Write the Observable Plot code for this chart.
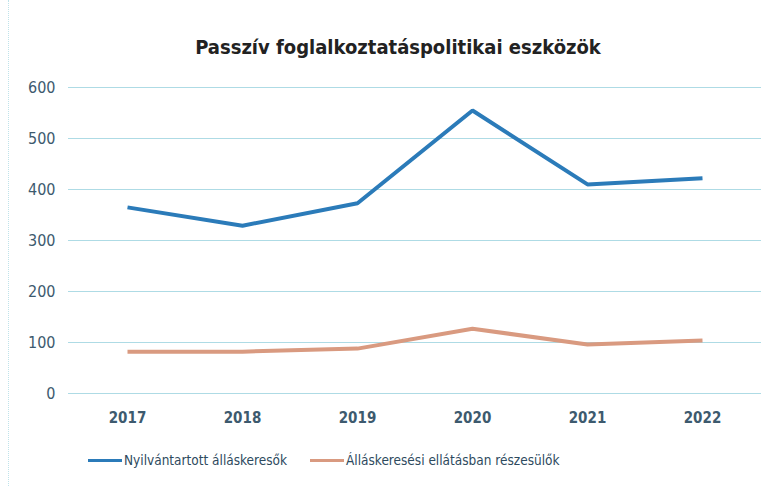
<!DOCTYPE html>
<html>
<head>
<meta charset="utf-8">
<script src="https://cdn.jsdelivr.net/npm/d3@7"></script>
<script src="https://cdn.jsdelivr.net/npm/@observablehq/plot@0.6"></script>
<style>
  body { margin: 0; background: #fff; width: 779px; height: 486px; overflow: hidden; position: relative;
         font-family: "DejaVu Sans Condensed", "DejaVu Sans", sans-serif; }
  #frame { position: absolute; left: 8px; top: 0; width: 760px; height: 486px; border-left: 1px dotted #bfe3ea; }
  #title { position: absolute; left: 0; top: 35px; width: 796px; text-align: center;
           font-size: 20px; font-weight: bold; color: #222; }
  #chart { position: absolute; left: 0; top: 70px; }
  #legend { position: absolute; left: 0; top: 452px; width: 779px; font-size: 13.5px; color: #2e4a5e; }
  .item { position: absolute; top: 0; display: flex; align-items: center; }
  .swatch { width: 34px; height: 3px; margin-right: 2px; }
</style>
</head>
<body>
<div id="frame"></div>
<div id="title">Passzív foglalkoztatáspolitikai eszközök</div>
<div id="chart"></div>
<div id="legend"></div>
<script>
const years = ["2017", "2018", "2019", "2020", "2021", "2022"];
const seriesNames = ["Nyilvántartott álláskeresők", "Álláskeresési ellátásban részesülők"];
const registered = [365, 329, 373, 555, 410, 422];
const benefits = [82, 82, 88, 127, 96, 104];
const yTicks = [0, 100, 200, 300, 400, 500, 600];
const colors = ["#2b7bb9", "#d99a80"];

const data = [];
years.forEach((y, i) => {
  data.push({year: y, value: registered[i], series: seriesNames[0]});
  data.push({year: y, value: benefits[i], series: seriesNames[1]});
});

const chart = Plot.plot({
  width: 779,
  height: 370,
  marginLeft: 68,
  marginRight: 18,
  marginTop: 17,
  marginBottom: 47,
  style: {fontFamily: "'DejaVu Sans Condensed', 'DejaVu Sans', sans-serif", fontSize: "15px", color: "#3d5a6e", background: "transparent"},
  x: {domain: years, type: "point", padding: 0.5, label: null},
  y: {domain: [0, 600], ticks: yTicks, label: null},
  color: {domain: seriesNames, range: colors},
  marks: [
    Plot.gridY(yTicks, {stroke: "#aedbe5", strokeOpacity: 1, strokeWidth: 1}),
    Plot.axisY(yTicks, {tickSize: 0, tickPadding: 13, fontSize: 16, fill: "#3d5a6e"}),
    Plot.axisX(years, {tickSize: 0, tickPadding: 19, fontSize: 15, fill: "#3d5a6e", fontWeight: "bold"}),
    Plot.line(data, {x: "year", y: "value", z: "series", stroke: "series", strokeWidth: 4, strokeLinejoin: "miter", strokeLinecap: "butt"})
  ]
});
document.getElementById("chart").appendChild(chart);

const legend = document.getElementById("legend");
const lefts = [88, 310];
seriesNames.forEach((name, i) => {
  const item = document.createElement("div");
  item.className = "item";
  item.style.left = lefts[i] + "px";
  const sw = document.createElement("div");
  sw.className = "swatch";
  sw.style.background = colors[i];
  const tx = document.createElement("span");
  tx.textContent = name;
  item.appendChild(sw);
  item.appendChild(tx);
  legend.appendChild(item);
});
</script>
</body>
</html>
